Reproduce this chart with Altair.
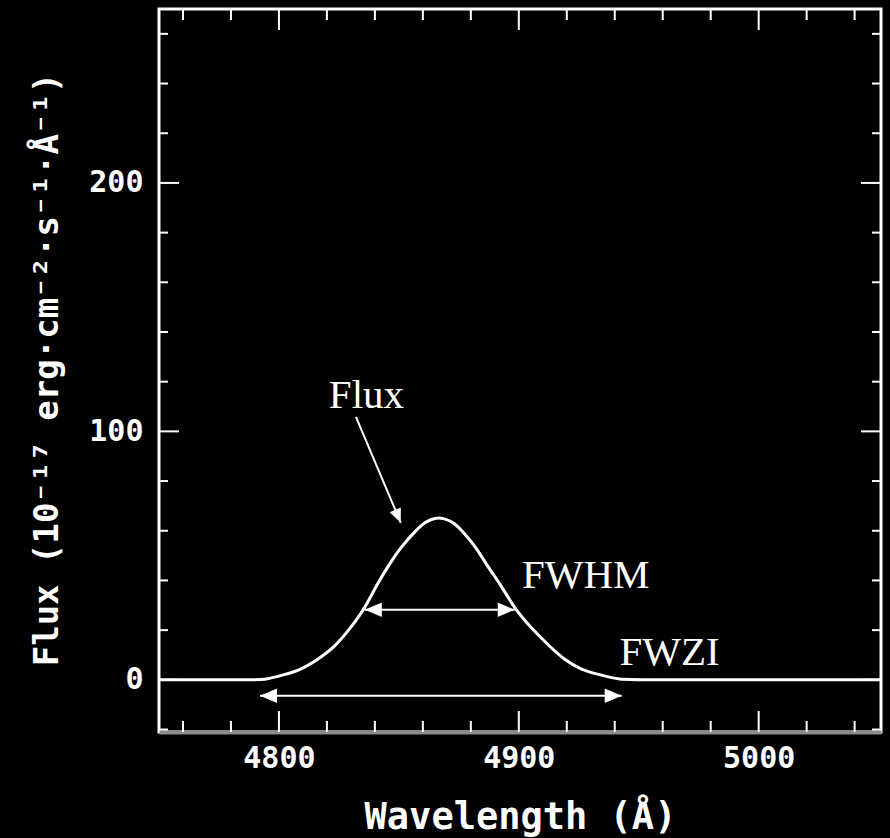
import altair as alt
import pandas as pd

# Spectrum (wavelength in Å, flux in 1e-17 erg/cm2/s/Å)
wavelength = [4750, 4790, 4794, 4802, 4809, 4816, 4823, 4830, 4836, 4841, 4847,
              4851, 4857, 4861, 4865, 4869, 4873, 4877, 4882, 4887, 4893, 4898,
              4905, 4913, 4919, 4926, 4934, 4942, 4950, 5051]
flux = [0, 0, 0, 2.0, 4.0, 8.1, 12.9, 21.0, 29.0, 38.8, 48.0,
        53.6, 60.0, 63.6, 65.3, 65.0, 63.3, 59.3, 53.6, 45.6, 37.5, 29.0,
        21.0, 13.3, 8.1, 4.0, 2.0, 0, 0, 0]

# Tick values
x_major = [4800, 4900, 5000]
x_minor = [4760, 4780, 4820, 4840, 4860, 4880, 4920, 4940, 4960, 4980, 5020, 5040]
y_major = [0, 100, 200]
y_minor = [-20, 20, 40, 60, 80, 120, 140, 160, 180, 220, 240, 260]

# Annotation arrows (data coordinates)
arrow_names = ["Flux", "FWHM", "FWZI"]
arrow_x1 = [4832.1, 4835.8, 4792.1]
arrow_y1 = [105.8, 28.2, -6.4]
arrow_x2 = [4850.8, 4898.3, 4942.9]
arrow_y2 = [63.2, 28.2, -6.4]

# Arrow heads: tip position, direction angle (deg, clockwise from right), size
head_x = [4850.8, 4835.8, 4898.3, 4792.1, 4942.9]
head_y = [63.2, 28.2, 28.2, -6.4, -6.4]
head_angle = [67, 180, 0, 180, 0]
head_size = [200, 289, 289, 289, 289]

# Annotation labels
label_text = ["Flux", "FWHM", "FWZI"]
label_x = [4820.8, 4901.3, 4942.0]
label_y = [109.5, 37.0, 6.0]

W, H = 722, 723
xscale = alt.Scale(domain=[4750, 5051], nice=False, zero=False)
yscale = alt.Scale(domain=[-21, 270], nice=False, zero=False)

mono = "DejaVu Sans Mono"

xaxis = alt.Axis(values=x_major, ticks=False, grid=False, domain=True,
                 domainColor="#8c8c8c", domainWidth=4,
                 labelFont=mono, labelFontSize=30, labelFontWeight="bold",
                 labelColor="white", labelPadding=11, format="d",
                 title="Wavelength (Å)", titleFont=mono, titleFontSize=37,
                 titleFontWeight="bold", titleColor="white",
                 titleY=96, titleBaseline="alphabetic")
yaxis = alt.Axis(values=y_major, ticks=False, grid=False, domain=False,
                 labelFont=mono, labelFontSize=30, labelFontWeight="bold",
                 labelColor="white", labelPadding=16, format="d",
                 title="Flux (10⁻¹⁷ erg·cm⁻²·s⁻¹·Å⁻¹)", titleFont=mono,
                 titleFontSize=34, titleFontWeight="bold", titleColor="white",
                 titleAngle=270, titleX=-102, titleY=360,
                 titleAlign="center", titleBaseline="alphabetic")

spec = pd.DataFrame({"wl": wavelength, "flux": flux})
curve = alt.Chart(spec).mark_line(color="white", strokeWidth=3, interpolate="basis", clip=True).encode(
    x=alt.X("wl:Q", scale=xscale, axis=xaxis),
    y=alt.Y("flux:Q", scale=yscale, axis=yaxis),
)

def xticks(vals, length):
    df = pd.DataFrame({"v": vals})
    base = alt.Chart(df).mark_rule(color="white", strokeWidth=2)
    bottom = base.encode(x=alt.X("v:Q", scale=xscale, axis=xaxis),
                         y=alt.value(H), y2=alt.value(H - length))
    top = base.encode(x=alt.X("v:Q", scale=xscale, axis=xaxis),
                      y=alt.value(0), y2=alt.value(length))
    return [bottom, top]

def yticks(vals, length):
    df = pd.DataFrame({"v": vals})
    base = alt.Chart(df).mark_rule(color="white", strokeWidth=2)
    left = base.encode(y=alt.Y("v:Q", scale=yscale, axis=yaxis),
                       x=alt.value(0), x2=alt.value(length))
    right = base.encode(y=alt.Y("v:Q", scale=yscale, axis=yaxis),
                        x=alt.value(W), x2=alt.value(W - length))
    return [left, right]

tick_layers = xticks(x_minor, 11) + xticks(x_major, 21) + yticks(y_minor, 9) + yticks(y_major, 20)

arrows_df = pd.DataFrame({"name": arrow_names, "x1": arrow_x1, "y1": arrow_y1,
                          "x2": arrow_x2, "y2": arrow_y2})
arrows = alt.Chart(arrows_df).mark_rule(color="white", strokeWidth=2).encode(
    x=alt.X("x1:Q", scale=xscale, axis=xaxis),
    y=alt.Y("y1:Q", scale=yscale, axis=yaxis),
    x2="x2:Q", y2="y2:Q",
)

heads_df = pd.DataFrame({"x": head_x, "y": head_y, "a": head_angle, "s": head_size})
heads = alt.Chart(heads_df).mark_point(filled=True, fill="white", opacity=1, strokeWidth=0).encode(
    x=alt.X("x:Q", scale=xscale, axis=xaxis),
    y=alt.Y("y:Q", scale=yscale, axis=yaxis),
    angle=alt.Angle("a:Q", scale=None),
    size=alt.Size("s:Q", scale=None),
    shape=alt.value("M0,0L-2,-0.85L-2,0.85Z"),
)

labels_df = pd.DataFrame({"t": label_text, "x": label_x, "y": label_y})
labels = alt.Chart(labels_df).mark_text(font="Liberation Serif", fontSize=41, color="white",
                                        align="left", baseline="alphabetic").encode(
    x=alt.X("x:Q", scale=xscale, axis=xaxis),
    y=alt.Y("y:Q", scale=yscale, axis=yaxis),
    text="t:N",
)

chart = alt.layer(curve, *tick_layers, arrows, heads, labels).properties(
    width=W, height=H,
    padding={"left": 159, "top": 9, "right": 9, "bottom": 106},
    autosize=alt.AutoSizeParams(type="none"),
).configure(background="black").configure_view(stroke="white", strokeWidth=3)

chart.save("out.html", embed_options={"renderer": "svg", "actions": False})
